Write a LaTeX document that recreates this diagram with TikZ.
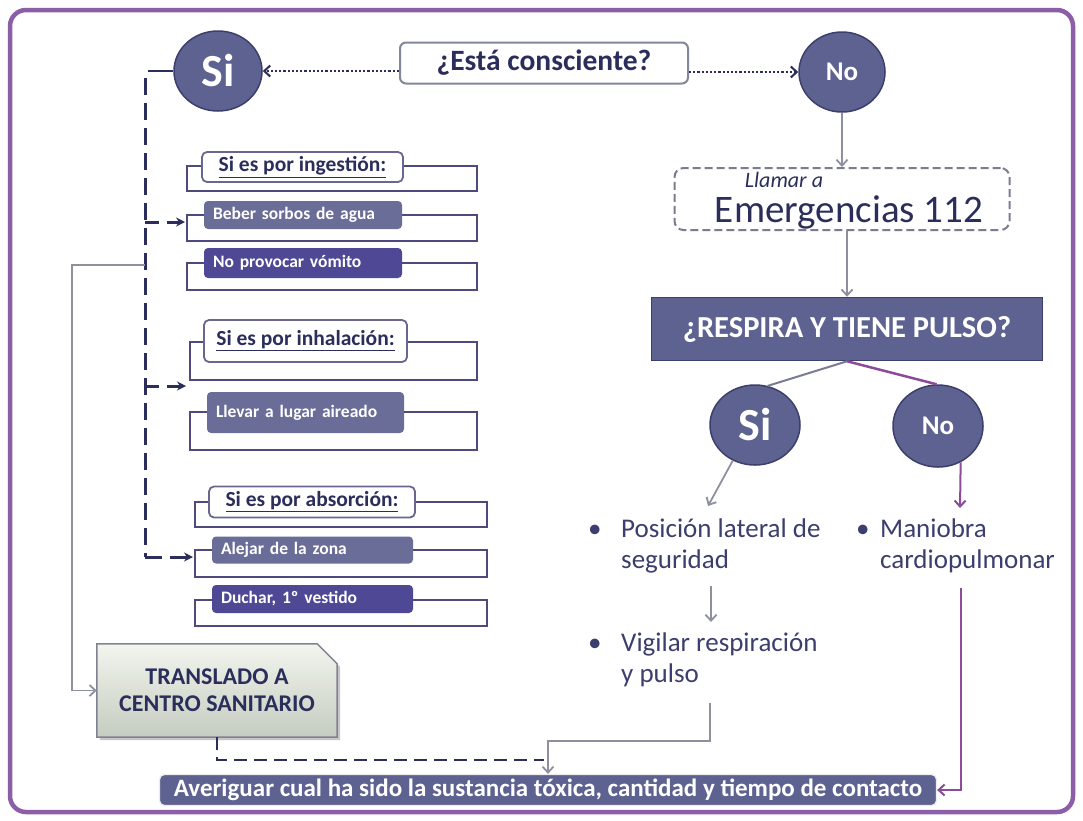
\documentclass[tikz,border=0pt]{standalone}
\usepackage{fontspec}
\setmainfont{Carlito}
\usetikzlibrary{shapes.geometric,arrows.meta}
\definecolor{frameP}{HTML}{8C5EA8}
\definecolor{navy}{HTML}{2B2E5A}
\definecolor{circF}{HTML}{5E6290}
\definecolor{circD}{HTML}{3C3F6C}
\definecolor{slate}{HTML}{6A6D97}
\definecolor{indig}{HTML}{4E4895}
\definecolor{brk}{HTML}{4E4B7C}
\definecolor{grayL}{HTML}{8E90A0}
\definecolor{purp}{HTML}{8A4C98}
\definecolor{txt}{HTML}{3C3E6E}
\definecolor{trTop}{HTML}{F2F5EE}
\definecolor{trBot}{HTML}{C5CCC0}
\tikzset{
  circ/.style={ellipse, fill=circF, draw=circD, line width=1.5pt, text=white, inner sep=0pt},
  hdr/.style={rectangle, rounded corners=5pt, draw=brk!85, line width=1.8pt, fill=white, text=navy,
    font=\fontsize{21.5}{24}\selectfont\bfseries, inner sep=0pt},
  actS/.style={rectangle, rounded corners=4pt, fill=slate, text=white, align=left, inner xsep=9pt, inner ysep=0pt,
    font=\fontsize{17.5}{20}\selectfont\bfseries},
  actI/.style={actS, fill=indig},
  brkline/.style={draw=brk, line width=2pt},
  bul/.style={text=txt, font=\fontsize{27}{31}\selectfont, align=left, anchor=west, inner sep=0pt},
  dotA/.style={navy, line width=2.2pt, dotted, -{Straight Barb[length=6pt,width=11pt,line width=2pt]}},
  gA/.style={grayL, line width=1.8pt, -{Straight Barb[length=6pt,width=11pt]}},
  pA/.style={purp, line width=2pt, -{Straight Barb[length=6pt,width=11pt]}},
  dashN/.style={navy, line width=3pt, dash pattern=on 17pt off 8pt},
  navyA/.style={-{Stealth[length=9pt,width=9pt,inset=3pt]}},
}
\begin{document}
\begin{tikzpicture}[x=1pt,y=-1pt]
\useasboundingbox (0,0) rectangle (1083,820);
\fill[white] (0,0) rectangle (1083,820);
\draw[frameP, line width=4.5pt, rounded corners=16pt] (10,10) rectangle (1073,812);

% top row
\node[rectangle, rounded corners=6pt, draw=grayL!90!navy, line width=2pt, fill=white, text=navy,
  minimum width=288pt, minimum height=41pt, font=\fontsize{29.5}{32}\selectfont\bfseries] (esta) at (544,63) {¿Está consciente?};
\node[circ, minimum width=88pt, minimum height=80pt, font=\fontsize{46}{50}\selectfont\bfseries] (si1) at (218,71) {Si};
\node[circ, minimum width=86pt, minimum height=80pt, font=\fontsize{27}{30}\selectfont\bfseries] (no1) at (842,72) {No};
\draw[dotA] (esta.west |- si1.east) -- (si1.east);
\draw[dotA] (esta.east |- no1.west) -- (no1.west);

% emergencias
\node[rectangle, rounded corners=9pt, draw=grayL!80!navy, line width=2pt, dash pattern=on 8pt off 4pt,
  minimum width=335pt, minimum height=62pt] (emer) at (842,199) {};
\node[text=navy, font=\fontsize{22}{24}\selectfont\itshape, inner sep=0pt] (llam) at (784,180) {Llamar a};
\node[text=navy, font=\fontsize{39}{42}\selectfont, inner sep=0pt] (em112) at (849,212) {Emergencias 112};
\draw[gA] (no1.south) -- (emer.north -| no1.south);

% respira
\node[rectangle, fill=circF, draw=circD, line width=1.5pt, minimum width=391pt, minimum height=63pt,
  text=white, font=\fontsize{30.5}{33}\selectfont\bfseries] (resp) at (847,329) {¿RESPIRA Y TIENE PULSO?};
\draw[gA] (emer.south -| 847,0) -- (resp.north);

\node[circ, minimum width=90pt, minimum height=80pt, font=\fontsize{46}{50}\selectfont\bfseries] (si2) at (755,425) {Si};
\node[circ, minimum width=90pt, minimum height=82pt, font=\fontsize{27}{30}\selectfont\bfseries] (no2) at (938,426) {No};
\draw[grayL!80!navy, line width=2pt] (resp.south) -- (si2.72);
\draw[purp, line width=2.5pt] (resp.south) -- (no2.92);

% bullets right
\node[bul] (b1) at (588,531) {•};
\node[bul] (pos) at (621,546) {Posición lateral de\\seguridad};
\node[bul] (b2) at (588,645) {•};
\node[bul] (vig) at (621,660) {Vigilar respiración\\y pulso};
\node[bul] (b3) at (856,531) {•};
\node[bul] (man) at (880,546) {Maniobra\\cardiopulmonar};
\coordinate (posT) at (708,506);
\coordinate (manT) at (960,508);
\draw[gA] (si2.238) -- (posT);
\draw[pA] (no2.-58) -- (manT);
\coordinate (posB) at (711,586);
\coordinate (vigT) at (711,622);
\draw[gA] (posB) -- (vigT);

% bottom bar
\node[rectangle, rounded corners=5pt, fill=circF, draw=white!85!gray, line width=1.2pt,
  minimum width=777pt, minimum height=31pt, inner sep=0pt, text=white, font=\fontsize{25}{27}\selectfont\bfseries] (aver) at (548,790)
  {Averiguar cual ha sido la sustancia tóxica, cantidad y tiempo de contacto};
\coordinate (vigB) at (710,703);
\coordinate (mid) at (548,741);
\draw[gA] (vigB) |- (mid) -- (mid |- aver.north);
\coordinate (manB) at (961,588);
\draw[pA] (manB) -- (manB |- aver.east) -- (aver.east);

% translado
\node[minimum width=240pt, minimum height=93pt, inner sep=0pt] (trans) at (217,690.5) {};
\fill[gray!45] ([shift={(3pt,-3pt)}]trans.north west) -- ([shift={(-17pt,-3pt)}]trans.north east) -- ([shift={(3pt,-23pt)}]trans.north east)
  -- ([shift={(3pt,-3pt)}]trans.south east) -- ([shift={(3pt,-3pt)}]trans.south west) -- cycle;
\shade[top color=trTop, bottom color=trBot, draw=grayL!90!black, line width=1.5pt]
  (trans.north west) -- ([xshift=-20pt]trans.north east) -- ([yshift=-20pt]trans.north east)
  -- (trans.south east) -- (trans.south west) -- cycle;
\node[text=navy, align=center, font=\fontsize{24}{27}\selectfont\bfseries] (transT) at (trans.center) {TRANSLADO A\\CENTRO SANITARIO};
\draw[navy, line width=2.5pt, dash pattern=on 13pt off 7pt] (trans.south) |- (544,760);

% left column: ingestion
\node[hdr, minimum width=201pt, minimum height=30pt] (ingH) at (302.5,167) {\underline{Si es por ingestión:}};
\draw[brkline] (ingH.west |- 0,166) -- (187,166) -- (187,191) -- (477,191) -- (477,166) -- (ingH.east |- 0,166);
\node[actS, text width=180pt, minimum height=28pt] (beber) at (303,215) {Beber sorbos de agua};
\draw[brkline] (beber.west |- 0,215) -- (187,215) -- (187,241) -- (477,241) -- (477,215) -- (beber.east |- 0,215);
\node[actI, text width=180pt, minimum height=30pt] (noprov) at (303,263) {No provocar vómito};
\draw[brkline] (noprov.west |- 0,263) -- (187,263) -- (187,290) -- (477,290) -- (477,263) -- (noprov.east |- 0,263);

% inhalation
\node[hdr, minimum width=203pt, minimum height=42pt] (inhH) at (305.5,341) {\underline{Si es por inhalación:}};
\draw[brkline] (inhH.west |- 0,342) -- (190,342) -- (190,380) -- (477,380) -- (477,342) -- (inhH.east |- 0,342);
\node[actS, text width=179pt, minimum height=41pt] (llev) at (305.5,412.5) {Llevar a lugar aireado};
\draw[brkline] (llev.west |- 0,412) -- (190,412) -- (190,450) -- (477,450) -- (477,412) -- (llev.east |- 0,412);

% absorption
\node[hdr, minimum width=206pt, minimum height=31pt] (absH) at (312,502) {\underline{Si es por absorción:}};
\draw[brkline] (absH.west |- 0,502) -- (195,502) -- (195,527) -- (487,527) -- (487,502) -- (absH.east |- 0,502);
\node[actS, text width=183pt, minimum height=27pt] (alej) at (312.5,550) {Alejar de la zona};
\draw[brkline] (alej.west |- 0,550) -- (195,550) -- (195,577) -- (487,577) -- (487,550) -- (alej.east |- 0,550);
\node[actI, text width=183pt, minimum height=28pt] (duch) at (312.5,599) {Duchar, 1º vestido};
\draw[brkline] (duch.west |- 0,600) -- (195,600) -- (195,626) -- (487,626) -- (487,600) -- (duch.east |- 0,600);

% dashed spine
\coordinate (spTop) at (145,78);
\coordinate (spBot) at (145,557);
\draw[navy, line width=2.5pt] (si1.west) -- (148,71);
\draw[dashN] (spTop) -- (spBot);
\draw[dashN, navyA] (spBot) -- (193,557);
\draw[navy, line width=3pt, dash pattern=on 14pt off 8pt, navyA] (145,222) -- (185,222);
\draw[navy, line width=3pt, dash pattern=on 14pt off 8pt, navyA] (145,386) -- (186,386);

% gray to translado
\coordinate (gT) at (145,265);
\draw[gA] (gT) -- (72,265) |- (trans.west);
\end{tikzpicture}
\end{document}
